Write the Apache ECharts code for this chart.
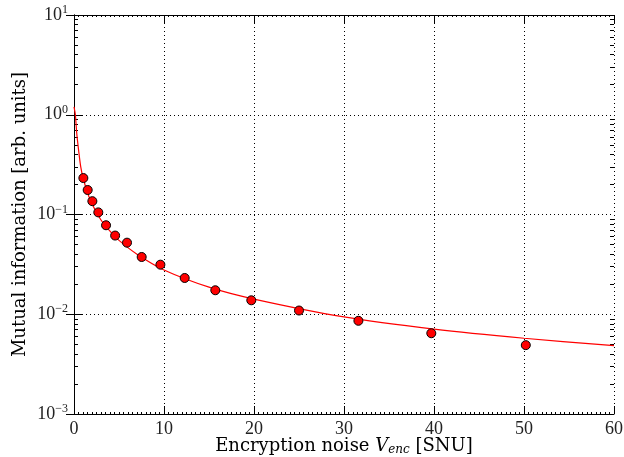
<!DOCTYPE html>
<html>
<head>
<meta charset="utf-8">
<script src="https://cdn.jsdelivr.net/npm/echarts@6/dist/echarts.min.js"></script>
<style>
  html, body { margin: 0; padding: 0; background: #fff; }
  #chart { width: 624px; height: 457px; }
</style>
</head>
<body>
<div id="chart"></div>
<script>
// measured points (V_enc, mutual information)
var pointX = [1.04, 1.52, 2.04, 2.7, 3.56, 4.57, 5.89, 7.52, 9.6, 12.3, 15.7, 19.7, 25.0, 31.6, 39.7, 50.2]
var pointY = [0.232, 0.176, 0.136, 0.105, 0.078, 0.0615, 0.0522, 0.0375, 0.0314, 0.0231, 0.0174, 0.0138, 0.0109, 0.0086, 0.00645, 0.0049]

// red theory curve
var curveX = [0, 0.15, 0.3, 0.5, 0.75, 1.0, 1.5, 2, 3, 4, 5, 7, 10, 15, 20, 30, 40, 50, 60]
var curveY = [1.2, 1.0, 0.66, 0.45, 0.3, 0.235, 0.165, 0.128, 0.088, 0.068, 0.055, 0.04, 0.0278, 0.0187, 0.0142, 0.0094, 0.0071, 0.00575, 0.00484]

var yDecades = [0.001, 0.01, 0.1, 1, 10]

var minorY = []
yDecades.slice(0, 4).forEach(function (d) {
  for (var k = 2; k <= 9; k++) minorY.push(d * k)
})

var font = 'Liberation Serif'
var nameFont = 'DejaVu Serif'
var chart = echarts.init(document.getElementById('chart'))

function zip (a, b) {
  return a.map(function (v, i) { return [v, b[i]] })
}

function expLabel (v) {
  var e = Math.round(Math.log10(v))
  return '{b|10}{e|' + (e < 0 ? '\u2212' + (-e) : e) + '}'
}

var tickCommon = { inside: true, length: 8, lineStyle: { color: '#000', width: 1 } }
var minorTickCommon = { inside: true, length: 4, lineStyle: { color: '#000', width: 1 } }

var option = {
  animation: false,
  grid: { left: 74, right: 10, top: 15, bottom: 43, outerBoundsMode: 'none', containLabel: false },
  xAxis: [
    {
      type: 'value', min: 0, max: 60, interval: 10, position: 'bottom',
      name: '{n|Encryption noise }{v|V}{s|enc}{n| [SNU]}',
      nameLocation: 'middle', nameGap: 22, nameMoveOverlap: false,
      nameTextStyle: {
        rich: {
          n: { fontFamily: nameFont, fontSize: 18, color: '#000' },
          v: { fontFamily: nameFont, fontSize: 18, fontStyle: 'italic', color: '#000' },
          s: { fontFamily: nameFont, fontSize: 12, fontStyle: 'italic', color: '#000', padding: [8, 0, 0, 0] }
        }
      },
      axisLine: { lineStyle: { color: '#000', width: 1 } },
      axisTick: tickCommon,
      minorTick: { show: true, splitNumber: 20, length: 2, lineStyle: { color: '#000' } },
      axisLabel: { fontFamily: font, fontSize: 18, color: '#222', margin: 6 },
      splitLine: { show: true, lineStyle: { color: '#000', type: [1, 3], width: 1 } }
    },
    {
      type: 'value', min: 0, max: 60, interval: 10, position: 'top',
      axisLine: { lineStyle: { color: '#000', width: 1 } },
      axisTick: tickCommon,
      minorTick: { show: true, splitNumber: 20, length: 2, lineStyle: { color: '#000' } },
      axisLabel: { show: false },
      splitLine: { show: false }
    }
  ],
  yAxis: [
    {
      type: 'log', logBase: 10, min: 0.001, max: 10, position: 'left',
      name: 'Mutual information [arb. units]',
      nameLocation: 'middle', nameGap: 45, nameMoveOverlap: false,
      nameTextStyle: { fontFamily: nameFont, fontSize: 18, color: '#000' },
      axisLine: { lineStyle: { color: '#000', width: 1 } },
      axisTick: tickCommon,
      axisLabel: {
        formatter: expLabel, margin: 6,
        rich: {
          b: { fontFamily: font, fontSize: 18, color: '#222' },
          e: { fontFamily: font, fontSize: 12, color: '#222', padding: [0, 0, 10, 0] }
        }
      },
      splitLine: { show: true, lineStyle: { color: '#000', type: [1, 3], width: 1 } }
    },
    {
      type: 'log', logBase: 10, min: 0.001, max: 10, position: 'right',
      axisLine: { lineStyle: { color: '#000', width: 1 } },
      axisTick: tickCommon,
      axisLabel: { show: false },
      splitLine: { show: false }
    },
    {
      type: 'log', logBase: 10, min: 0.001, max: 10, position: 'left',
      axisLine: { show: false },
      axisTick: Object.assign({ customValues: minorY }, minorTickCommon),
      axisLabel: { show: false },
      splitLine: { show: false }
    },
    {
      type: 'log', logBase: 10, min: 0.001, max: 10, position: 'right',
      axisLine: { show: false },
      axisTick: Object.assign({ customValues: minorY }, minorTickCommon),
      axisLabel: { show: false },
      splitLine: { show: false }
    }
  ],
  series: [
    {
      type: 'line',
      data: zip(curveX, curveY),
      smooth: 0.3,
      showSymbol: false,
      lineStyle: { color: '#ff0000', width: 1.2 },
      z: 3
    },
    {
      type: 'scatter',
      data: zip(pointX, pointY),
      symbolSize: 9,
      itemStyle: { color: '#ff0000', borderColor: '#000', borderWidth: 1, opacity: 1 },
      z: 4
    }
  ]
}

chart.setOption(option)
</script>
</body>
</html>
